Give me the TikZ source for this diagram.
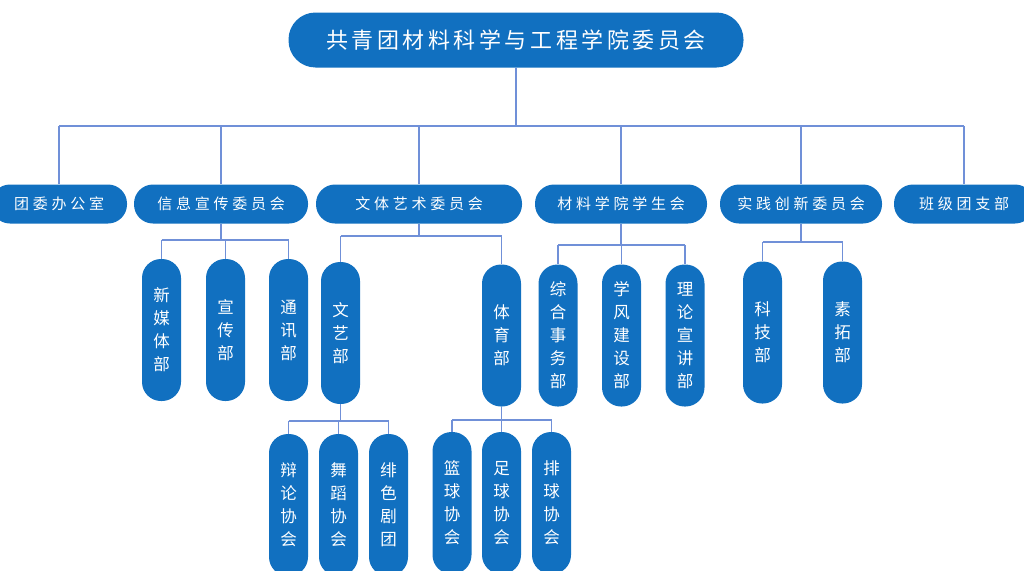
\documentclass[tikz,border=0pt]{standalone}
\usepackage{fontspec}
\usepackage{xcolor}
\newfontfamily\cjk{Noto Sans CJK SC}
\newfontfamily\cjkwide[LetterSpace=25]{Noto Sans CJK SC}
\newfontfamily\cjktitle[LetterSpace=16]{Noto Sans CJK SC}
\definecolor{orgblue}{RGB}{17,112,192}
\definecolor{linkblue}{RGB}{112,144,216}
\tikzset{
  topbox/.style={rectangle,fill=orgblue,text=white,rounded corners=27pt,minimum width=455pt,minimum height=55pt,font=\cjktitle\fontsize{22pt}{26pt}\selectfont},
  midbox/.style={rectangle,fill=orgblue,text=white,rounded corners=19pt,minimum height=39pt,font=\cjkwide\fontsize{15pt}{18pt}\selectfont},
  subbox/.style={rectangle,fill=orgblue,text=white,rounded corners=19pt,minimum width=39pt,minimum height=142pt,inner sep=0pt,align=center,font=\cjk\fontsize{16.5pt}{23pt}\selectfont},
  link/.style={draw=linkblue,line width=1.5pt}
}
\begin{document}
\begin{tikzpicture}[x=1pt,y=-1pt]
\useasboundingbox (0,0) rectangle (1024,570);
% top
\node[topbox] (root) at (516,40){共青团材料科学与工程学院委员会};
% second row
\node[midbox,minimum width=136pt] (tw) at (59,204){团委办公室};
\node[midbox,minimum width=174pt] (xx) at (221,204){信息宣传委员会};
\node[midbox,minimum width=206pt] (wt) at (419,204){文体艺术委员会};
\node[midbox,minimum width=172pt] (xsh) at (621,204){材料学院学生会};
\node[midbox,minimum width=162pt] (sj) at (801,204){实践创新委员会};
\node[midbox,minimum width=140pt] (bj) at (964,204){班级团支部};
% departments
\node[subbox] (xmt) at (161.5,330){新\\媒\\体\\部};
\node[subbox] (xc) at (225.5,330){宣\\传\\部};
\node[subbox] (tx) at (288.5,330){通\\讯\\部};
\node[subbox] (wy) at (340.5,333){文\\艺\\部};
\node[subbox] (ty) at (501.5,335.5){体\\育\\部};
\node[subbox] (zh) at (558,335.5){综\\合\\事\\务\\部};
\node[subbox] (xf) at (621.5,335.5){学\\风\\建\\设\\部};
\node[subbox] (ll) at (685,335.5){理\\论\\宣\\讲\\部};
\node[subbox] (kj) at (762.5,332.5){科\\技\\部};
\node[subbox] (st) at (842.5,332.5){素\\拓\\部};
% associations
\node[subbox] (bl) at (288.5,505){辩\\论\\协\\会};
\node[subbox] (wd) at (338.5,505){舞\\蹈\\协\\会};
\node[subbox] (fs) at (388.5,505){绯\\色\\剧\\团};
\node[subbox] (lq) at (452,503){篮\\球\\协\\会};
\node[subbox] (zq) at (501.5,503){足\\球\\协\\会};
\node[subbox] (pq) at (551.5,503){排\\球\\协\\会};
% buses
\coordinate (b0) at (0,126);
\coordinate (bxx) at (0,240);
\coordinate (bwt) at (0,236);
\coordinate (bxsh) at (0,245);
\coordinate (bsj) at (0,242);
\coordinate (bwy) at (0,421);
\coordinate (bty) at (0,420);
\draw[link] (root.south) -- (root.south |- b0);
\draw[link] (tw.north |- b0) -- (bj.north |- b0);
\foreach \n in {tw,xx,wt,xsh,sj,bj}
  \draw[link] (\n.north |- b0) -- (\n.north);
\draw[link] (xx.south) -- (xx.south |- bxx);
\draw[link] (xmt.north |- bxx) -- (tx.north |- bxx);
\foreach \n in {xmt,xc,tx}
  \draw[link] (\n.north |- bxx) -- (\n.north);
\draw[link] (wt.south) -- (wt.south |- bwt);
\draw[link] (wy.north |- bwt) -- (ty.north |- bwt);
\foreach \n in {wy,ty}
  \draw[link] (\n.north |- bwt) -- (\n.north);
\draw[link] (xsh.south) -- (xsh.south |- bxsh);
\draw[link] (zh.north |- bxsh) -- (ll.north |- bxsh);
\foreach \n in {zh,xf,ll}
  \draw[link] (\n.north |- bxsh) -- (\n.north);
\draw[link] (sj.south) -- (sj.south |- bsj);
\draw[link] (kj.north |- bsj) -- (st.north |- bsj);
\foreach \n in {kj,st}
  \draw[link] (\n.north |- bsj) -- (\n.north);
\draw[link] (wy.south) -- (wy.south |- bwy);
\draw[link] (bl.north |- bwy) -- (fs.north |- bwy);
\foreach \n in {bl,wd,fs}
  \draw[link] (\n.north |- bwy) -- (\n.north);
\draw[link] (ty.south) -- (ty.south |- bty);
\draw[link] (lq.north |- bty) -- (pq.north |- bty);
\foreach \n in {lq,zq,pq}
  \draw[link] (\n.north |- bty) -- (\n.north);
\end{tikzpicture}
\end{document}
